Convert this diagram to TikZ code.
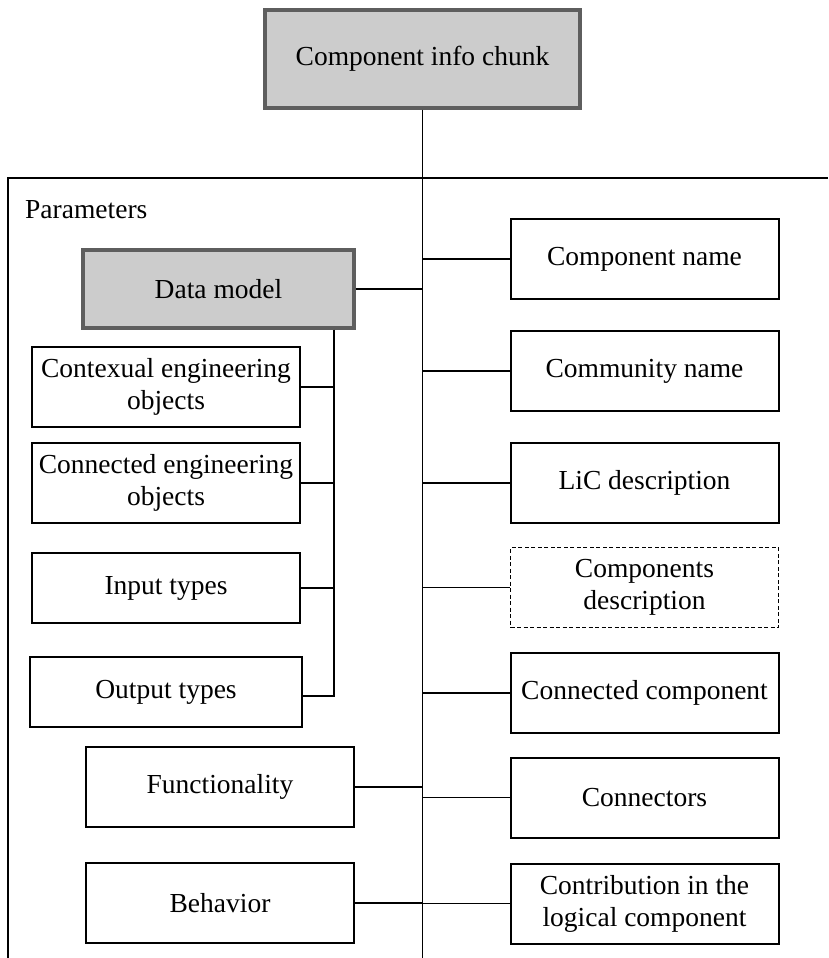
\documentclass[tikz,border=0pt]{standalone}
\usepackage{fontspec}
\setmainfont{Liberation Serif}
\definecolor{chunkfill}{HTML}{CCCCCC}
\definecolor{chunkedge}{HTML}{5E5E5E}
\begin{document}
\begin{tikzpicture}[x=1pt,y=-1pt,
  every node/.style={font=\fontsize{27.5}{32}\selectfont},
  box/.style={draw=black, line width=2pt, minimum width=268pt, minimum height=80pt,
              inner sep=0pt, align=center},
  graybox/.style={box, fill=chunkfill, draw=chunkedge, line width=3.2pt},
  dashbox/.style={box, line width=1.6pt, dash pattern=on 4pt off 2.5pt},
  link/.style={line width=1.9pt}]
\useasboundingbox (0,0) rectangle (828,958);

% outer "Parameters" frame (open on the right and bottom)
\coordinate (frameBL) at (8,958);
\coordinate (frameTL) at (8,178);
\coordinate (frameTR) at (828,178);
\draw[link] (frameBL) -- (frameTL) -- (frameTR);
\node[anchor=base west, inner sep=0pt] (params) at (25,218) {Parameters};

% root
\node[graybox, minimum width=315pt, minimum height=98pt] (top) at (422.5,59) {Component info chunk};

% left column
\node[graybox, minimum width=271pt, minimum height=78pt] (dm) at (218.5,289) {Data model};
\node[box] (ctx) at (166,387) {Contexual engineering\\objects};
\node[box] (ceo) at (166,483) {Connected engineering\\objects};
\node[box, minimum height=70pt] (inp) at (166,588) {Input types};
\node[box, minimum width=272pt, minimum height=70pt] (outp) at (166,692) {Output types};
\node[box] (func) at (220,787) {Functionality};
\node[box] (beh) at (220,903) {Behavior};

% right column
\node[box] (cname) at (644.5,259) {Component name};
\node[box] (comm) at (644.5,371) {Community name};
\node[box] (lic) at (644.5,483) {LiC description};
\node[dashbox] (cdesc) at (644.5,587.5) {Components\\description};
\node[box] (ccomp) at (644.5,693) {Connected component};
\node[box] (conn) at (644.5,797.5) {Connectors};
\node[box] (contr) at (644.5,903.5) {Contribution in the\\logical component};

% main trunk
\coordinate (trunkend) at (422.5,958);
\draw[link] (top.south) -- (trunkend);

% data model sub-bus
\coordinate (bus) at (334,0);
\draw[link] (dm.south -| bus) |- ([yshift=-4pt]outp.east);
\foreach \n in {ctx,ceo,inp}
  \draw[link] (\n.east) -- (\n.east -| bus);

% branches to the trunk
\foreach \n in {dm,func,beh}
  \draw[link] (\n.east) -- (\n.east -| top.south);
\foreach \n in {cname,comm,lic,cdesc,ccomp,conn,contr}
  \draw[link] (\n.west) -- (\n.west -| top.south);
\end{tikzpicture}
\end{document}
